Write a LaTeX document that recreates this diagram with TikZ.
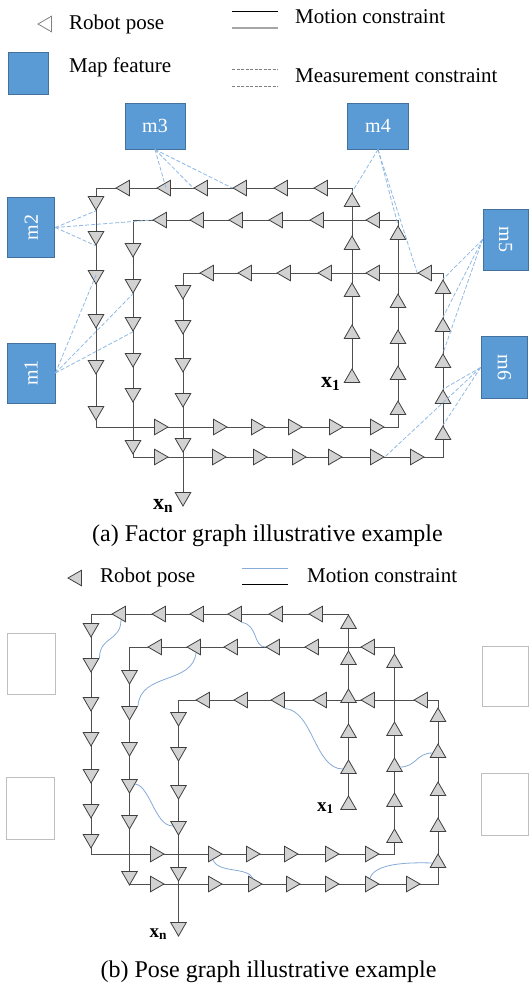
\documentclass[tikz,border=0pt]{standalone}
\usepackage{fix-cm}
\usepackage{fontspec}
\setmainfont{Liberation Serif}
\usetikzlibrary{shapes.geometric}

\definecolor{posefill}{HTML}{D2D2D2}
\definecolor{poseedge}{HTML}{404040}
\definecolor{trajgray}{HTML}{4F4F4F}
\definecolor{mapblue}{HTML}{5B9BD5}
\definecolor{mapedge}{HTML}{41719C}
\definecolor{measblue}{HTML}{8FB8E2}
\definecolor{loopblue}{HTML}{86ABD6}
\definecolor{boxgray}{HTML}{BFBFBF}

\begin{document}
\begin{tikzpicture}[x=1pt, y=-1pt,
    pose/.style={regular polygon, regular polygon sides=3, draw=poseedge,
        fill=posefill, line width=0.8pt, minimum size=18pt, inner sep=0pt},
    poseup/.style={pose},
    poselt/.style={pose, shape border rotate=90},
    posedn/.style={pose, shape border rotate=180},
    posert/.style={pose, shape border rotate=270},
    traj/.style={draw=trajgray, line width=0.8pt},
    mapfeat/.style={rectangle, draw=mapedge, fill=mapblue, line width=0.9pt,
        text=white, font=\fontsize{20}{24}\selectfont, inner sep=0pt},
    meas/.style={draw=measblue, line width=0.8pt, dash pattern=on 4pt off 2pt},
    loopc/.style={draw=loopblue, line width=0.8pt},
    emptybox/.style={rectangle, draw=boxgray, line width=0.7pt, inner sep=0pt},
    legtxt/.style={anchor=base west, font=\fontsize{21}{25}\selectfont, inner sep=0pt},
    capt/.style={anchor=base, font=\fontsize{24}{28}\selectfont, inner sep=0pt},
    poselbl/.style={anchor=base west, inner sep=0pt},
]
\useasboundingbox (0,0) rectangle (528,986);

% ===== (a) LEGEND =====
\node[poselt, fill=white, draw=gray] (a-leg-pose) at (47,24) {};
\node[legtxt] (a-leg-pose-txt) at (69,29) {Robot pose};
\node[mapfeat, minimum width=40pt, minimum height=42pt] (a-leg-map) at (28,73) {};
\node[legtxt] (a-leg-map-txt) at (69,72) {Map feature};
\coordinate (a-leg-m1) at (232,11);  \coordinate (a-leg-m2) at (278,11);
\coordinate (a-leg-m3) at (232,28);  \coordinate (a-leg-m4) at (278,28);
\draw[line width=0.6pt] (a-leg-m1) -- (a-leg-m2);
\draw[line width=1.2pt, gray!70] (a-leg-m3) -- (a-leg-m4);
\node[legtxt] (a-leg-mot-txt) at (295,23) {Motion constraint};
\coordinate (a-leg-d1) at (232,69);  \coordinate (a-leg-d2) at (278,69);
\coordinate (a-leg-d3) at (232,86);  \coordinate (a-leg-d4) at (278,86);
\draw[gray, line width=0.7pt, dash pattern=on 3pt off 1.5pt] (a-leg-d1) -- (a-leg-d2);
\draw[gray, line width=0.7pt, dash pattern=on 3pt off 1.5pt] (a-leg-d3) -- (a-leg-d4);
\node[legtxt] (a-leg-meas-txt) at (295,82) {Measurement constraint};

% ===== (a) FACTOR GRAPH =====
% trajectory corners, x1 to xn
\foreach \n/\p in {0/{352,378},1/{352,188},2/{96,188},3/{96,427},4/{398,427},
    5/{398,220},6/{133,220},7/{133,457},8/{443,457},9/{443,273},10/{183,273},11/{183,497}}
  \coordinate (a-c\n) at (\p);
\draw[traj] (a-c0) \foreach \n in {1,...,11} { -- (a-c\n) };

% map features
\node[mapfeat, minimum width=60pt, minimum height=46pt] (m3) at (155,126) {m3};
\node[mapfeat, minimum width=61pt, minimum height=46pt] (m4) at (378,126) {m4};
\node[mapfeat, minimum width=47pt, minimum height=60pt] (m2) at (31.3,227.5) {\rotatebox{90}{m2}};
\node[mapfeat, minimum width=48pt, minimum height=60pt] (m1) at (31,373) {\rotatebox{90}{m1}};
\node[mapfeat, minimum width=45pt, minimum height=61pt] (m5) at (505.5,239.5) {\rotatebox{-90}{m5}};
\node[mapfeat, minimum width=46.5pt, minimum height=61.5pt] (m6) at (504.3,367.5) {\rotatebox{-90}{m6}};

% robot poses
\foreach \y [count=\k] in {378,334,292,245,202}
  \node[poseup] (a-u1-\k) at (352,\y) {};
\foreach \x [count=\k] in {323,283,242,203,166,125}
  \node[poselt] (a-l1-\k) at (\x,188) {};
\foreach \y [count=\k] in {201,236,275,319,365,411}
  \node[posedn] (a-d1-\k) at (96,\y) {};
\foreach \x [count=\k] in {159,218,256,293,334,375}
  \node[posert] (a-r1-\k) at (\x,427) {};
\foreach \y [count=\k] in {410,375,339,303,235}
  \node[poseup] (a-u2-\k) at (398,\y) {};
\foreach \x [count=\k] in {375,319,278,238,199,162}
  \node[poselt] (a-l2-\k) at (\x,220) {};
\foreach \y [count=\k] in {248,284,322,358,393,445}
  \node[posedn] (a-d2-\k) at (133,\y) {};
\foreach \x [count=\k] in {159,217,258,297,333,375,415}
  \node[posert] (a-r2-\k) at (\x,457) {};
\foreach \y [count=\k] in {435,399,363,327,289}
  \node[poseup] (a-u3-\k) at (443,\y) {};
\foreach \x [count=\k] in {427,375,327,286,247,209}
  \node[poselt] (a-l3-\k) at (\x,273) {};
\foreach \y [count=\k] in {290,325,363,398,443,497}
  \node[posedn] (a-d3-\k) at (183,\y) {};

\node[poselbl, font=\fontsize{22}{26}\selectfont] (a-x1) at (321,387) {$\mathbf{x}_{\mathbf{1}}$};
\node[poselbl, font=\fontsize{22}{26}\selectfont] (a-xn) at (153,509) {$\mathbf{x}_{\mathbf{n}}$};

% measurement constraints
\draw[meas] (m3.south) -- (a-l1-5.center);
\draw[meas] (m3.south) -- (a-l1-4.corner 1);
\draw[meas] (m3.south) -- (a-l1-3.corner 1);
\draw[meas] (m4.south) -- (a-u1-5.corner 1);
\draw[meas] (m4.south) -- (a-u2-5.corner 1);
\draw[meas] (m4.south) -- (a-l3-1.corner 1);
\draw[meas] (m2.east) -- (a-d1-1.corner 1);
\draw[meas] (m2.east) -- (a-l2-6.corner 1);
\draw[meas] (m2.east) -- (a-d1-2.corner 1);
\draw[meas] (m1.east) -- (a-d1-3.center);
\draw[meas] (m1.east) -- (a-d2-2.corner 1);
\draw[meas] (m1.east) -- (a-d2-3.corner 1);
\draw[meas] (m5.west) -- (a-u3-5.corner 1);
\draw[meas] (m5.west) -- (a-u3-4.corner 1);
\draw[meas] (m5.west) -- (a-u3-3.corner 1);
\draw[meas] (m6.west) -- (a-u3-2.corner 1);
\draw[meas] (m6.west) -- (a-u3-1.corner 1);
\draw[meas] (m6.west) -- (a-r2-6.corner 1);

\node[capt] (a-cap) at (267.5,541) {(a) Factor graph illustrative example};

% ===== (b) LEGEND =====
\node[poselt] (b-leg-pose) at (77,578) {};
\node[legtxt] (b-leg-pose-txt) at (100,582) {Robot pose};
\coordinate (b-leg-m1) at (242,568);  \coordinate (b-leg-m2) at (288,568);
\coordinate (b-leg-m3) at (242,584);  \coordinate (b-leg-m4) at (288,584);
\draw[loopc] (b-leg-m1) -- (b-leg-m2);
\draw[line width=0.7pt] (b-leg-m3) -- (b-leg-m4);
\node[legtxt] (b-leg-mot-txt) at (307,582) {Motion constraint};

% ===== (b) POSE GRAPH =====
\foreach \n/\p in {0/{348.5,805},1/{348.5,614},2/{91,614},3/{91,854},4/{394.5,854},
    5/{394.5,647},6/{129.5,647},7/{129.5,884},8/{438,884},9/{438,700},10/{178.5,700},11/{178.5,927}}
  \coordinate (b-c\n) at (\p);
\draw[traj] (b-c0) \foreach \n in {1,...,11} { -- (b-c\n) };

% empty feature slots
\node[emptybox, minimum width=48pt, minimum height=61pt] (b-s1) at (31.3,663.4) {};
\node[emptybox, minimum width=48pt, minimum height=61.5pt] (b-s2) at (30,808.5) {};
\node[emptybox, minimum width=46pt, minimum height=60pt] (b-s3) at (505.7,676) {};
\node[emptybox, minimum width=47pt, minimum height=62pt] (b-s4) at (504.5,804) {};

% robot poses
\foreach \y [count=\k] in {805,769,733,698,660,624}
  \node[poseup] (b-u1-\k) at (348.5,\y) {};
\foreach \x [count=\k] in {318,278,237,199,161,121}
  \node[poselt] (b-l1-\k) at (\x,614) {};
\foreach \y [count=\k] in {628,663,702,737,774,809,839}
  \node[posedn] (b-d1-\k) at (91,\y) {};
\foreach \x [count=\k] in {155,213,251,289,330,370}
  \node[posert] (b-r1-\k) at (\x,854) {};
\foreach \y [count=\k] in {838,802,767,731,663}
  \node[poseup] (b-u2-\k) at (394.5,\y) {};
\foreach \x [count=\k] in {370,314,275,233,196,157}
  \node[poselt] (b-l2-\k) at (\x,647) {};
\foreach \y [count=\k] in {675,711,747,784,820,876}
  \node[posedn] (b-d2-\k) at (129.5,\y) {};
\foreach \x [count=\k] in {155,213,253,291,330,370,411}
  \node[posert] (b-r2-\k) at (\x,884) {};
\foreach \y [count=\k] in {863,827,791,753,717}
  \node[poseup] (b-u3-\k) at (438,\y) {};
\foreach \x [count=\k] in {423,370,322,280,243,205}
  \node[poselt] (b-l3-\k) at (\x,700) {};
\foreach \y [count=\k] in {717,752,790,826,872,927}
  \node[posedn] (b-d3-\k) at (178.5,\y) {};

\node[poselbl, font=\fontsize{19}{23}\selectfont] (b-x1) at (317,811) {$\mathbf{x}_{\mathbf{1}}$};
\node[poselbl, font=\fontsize{19}{23}\selectfont] (b-xn) at (149.5,937) {$\mathbf{x}_{\mathbf{n}}$};

% loop closures
\draw[loopc] (b-l1-6.south) .. controls +(0,22) and +(0,-22) .. (b-d1-2.corner 2);
\draw[loopc] (b-l2-5.south) .. controls +(-3,32) and +(2,-34) .. (b-d2-2.corner 2);
\draw[loopc] (b-l1-3.corner 2) .. controls +(16,2) and +(-12,0) .. (b-l2-3.corner 1);
\draw[loopc] (b-l3-4.corner 2) .. controls +(28,2) and +(-28,0) .. (b-u1-2.west);
\draw[loopc] (b-u2-3.east) .. controls +(16,0) and +(-16,0) .. (b-u3-4.west);
\draw[loopc] (b-d2-4.east) .. controls +(15,2) and +(-18,0) .. (b-d3-4.west);
\draw[loopc] (b-r1-2.south) .. controls +(5,14) and +(-6,-12) .. (b-r2-3.north);
\draw[loopc] (b-r2-6.north) .. controls +(4,-14) and +(-29,-1) .. (b-u3-1.west);

\node[capt] (b-cap) at (268.5,977) {(b) Pose graph illustrative example};

\end{tikzpicture}
\end{document}
